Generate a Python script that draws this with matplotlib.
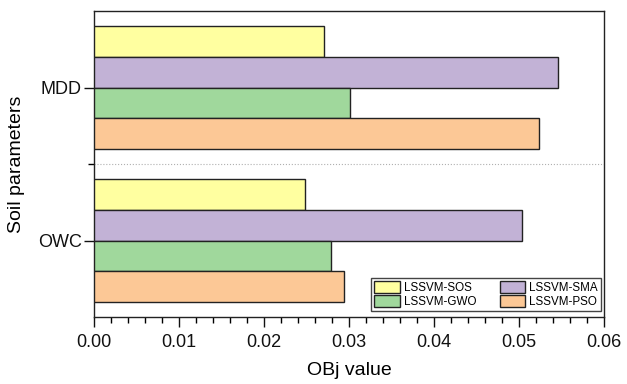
import numpy as np
import matplotlib.pyplot as plt
from matplotlib.ticker import MultipleLocator, FixedLocator

# data
categories = ['OWC', 'MDD']
sos = [0.0248, 0.0270]
sma = [0.0504, 0.0546]
gwo = [0.0279, 0.0301]
pso = [0.0294, 0.0524]

series = [
    ('LSSVM-SOS', sos, '#FFFFA0', 0.3),
    ('LSSVM-SMA', sma, '#C2B2D6', 0.1),
    ('LSSVM-GWO', gwo, '#A0D89C', -0.1),
    ('LSSVM-PSO', pso, '#FCC896', -0.3),
]

plt.rcParams['font.family'] = ['Liberation Sans', 'DejaVu Sans']

fig = plt.figure(figsize=(6.27, 3.84), dpi=100)
ax = fig.add_axes([0.1504, 0.1737, 0.8129, 0.7977])

y = np.arange(len(categories))
bars = {}
for name, vals, color, off in series:
    bars[name] = ax.barh(y + off, vals, height=0.2, color=color,
                         edgecolor='#222222', linewidth=1.0, label=name, zorder=3)

ax.axhline(0.5, color='#b0b0b0', linestyle=':', linewidth=0.8, zorder=1)

ax.set_xlim(0, 0.06)
ax.set_ylim(-0.5, 1.5)
ax.set_yticks(y)
ax.set_yticklabels(categories)
ax.yaxis.set_minor_locator(FixedLocator([0.5]))
ax.xaxis.set_major_locator(MultipleLocator(0.01))
ax.xaxis.set_minor_locator(MultipleLocator(0.002))
ax.xaxis.set_major_formatter(plt.FormatStrFormatter('%.2f'))

ax.tick_params(axis='both', which='major', direction='out', length=7,
               width=1, labelsize=13, colors='#111111')
ax.tick_params(axis='x', which='major', pad=5)
ax.tick_params(axis='y', which='major', pad=2)
ax.tick_params(axis='both', which='minor', direction='out', length=4, width=1)
for s in ax.spines.values():
    s.set_linewidth(1.0)
    s.set_color('#222222')

ax.set_xlabel('OBj value', fontsize=14, labelpad=8)
ax.set_ylabel('Soil parameters', fontsize=14, labelpad=9)

handles = [bars['LSSVM-SOS'], bars['LSSVM-GWO'], bars['LSSVM-SMA'], bars['LSSVM-PSO']]
labels = ['LSSVM-SOS', 'LSSVM-GWO', 'LSSVM-SMA', 'LSSVM-PSO']
leg = ax.legend(handles, labels, ncol=2, loc='lower right',
                bbox_to_anchor=(0.994, 0.02), borderaxespad=0,
                fontsize=8.4, frameon=True, fancybox=False, framealpha=1,
                edgecolor='#444444', handlelength=2.2, handleheight=1.2,
                handletextpad=0.35, labelspacing=0.1, columnspacing=2.0,
                borderpad=0.25)
leg.get_frame().set_linewidth(1.0)

fig.savefig('out.png', dpi=100)
